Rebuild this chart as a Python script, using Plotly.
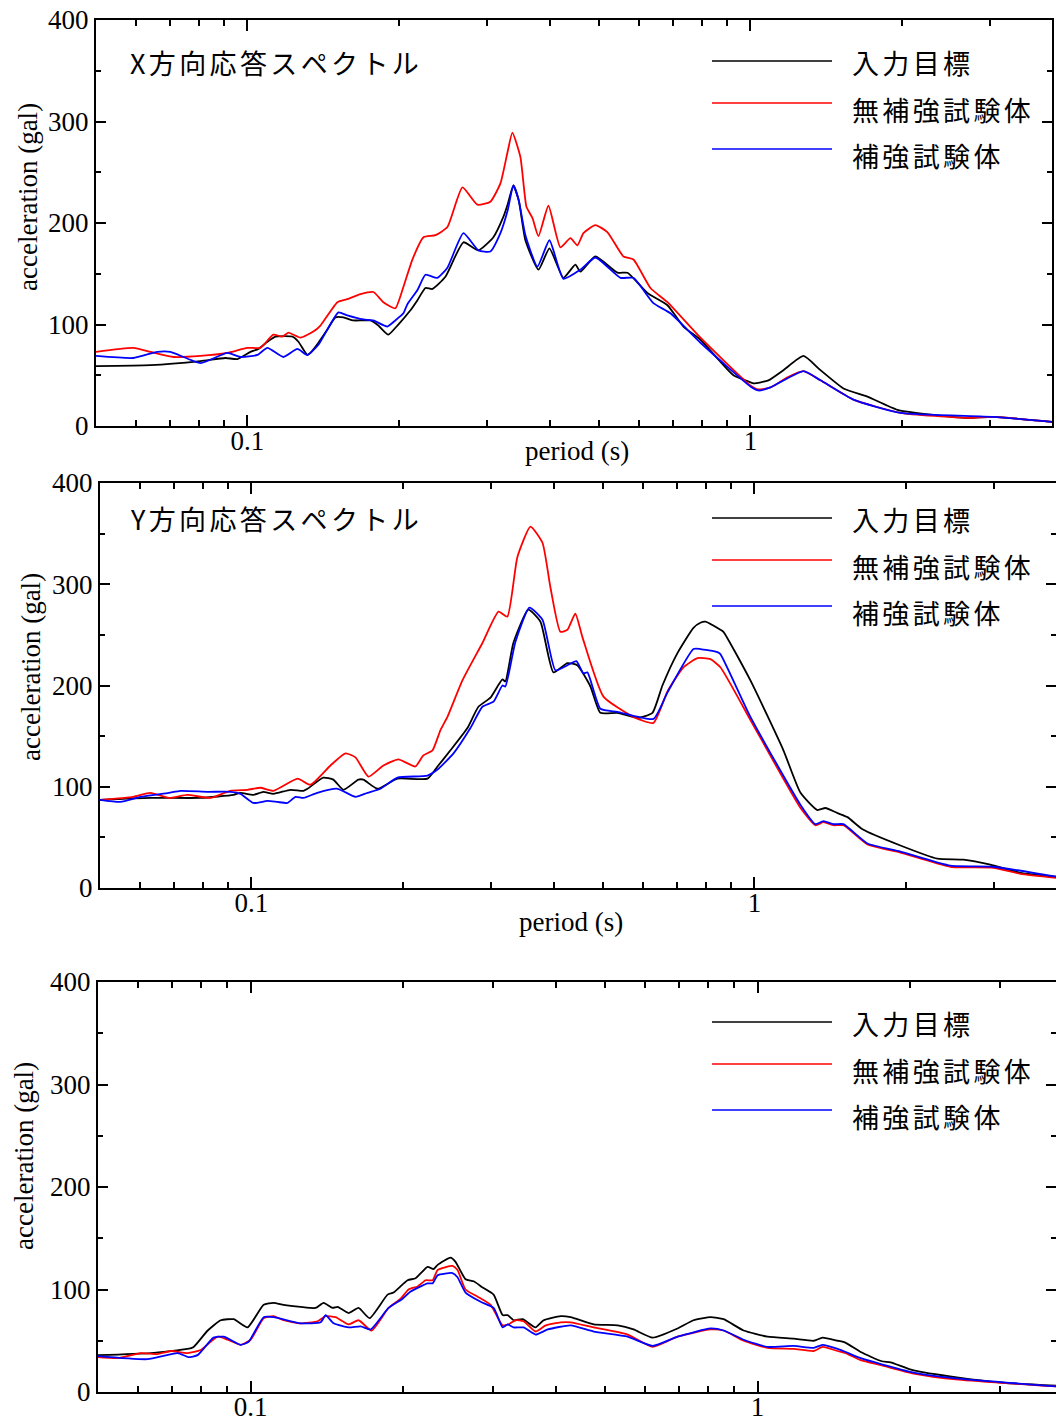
import math
import plotly.graph_objects as go

# ---------------- X direction response spectrum (period s, acceleration gal) ----------------
X_T_TARGET = [0.05, 0.0642, 0.0807, 0.0904, 0.0955, 0.1014, 0.1052, 0.1096, 0.1137, 0.1229,
              0.1263, 0.1316, 0.1334, 0.1384, 0.1442, 0.1496, 0.1552, 0.1625, 0.1756, 0.1821,
              0.1906, 0.1987, 0.2109, 0.2178, 0.2259, 0.2333, 0.2475, 0.2688, 0.2879, 0.3083,
              0.3227, 0.3290, 0.3379, 0.3464, 0.3570, 0.3790, 0.3985, 0.4248, 0.4488, 0.4592,
              0.4918, 0.5441, 0.5697, 0.6240, 0.6840, 0.7358, 0.7956, 0.9252, 0.9774, 1.014,
              1.086, 1.163, 1.275, 1.378, 1.531, 1.708, 1.960, 2.311, 2.700, 3.042, 4.0]
X_A_TARGET = [59, 60, 64, 67, 66, 73, 76, 83, 88, 88,
              83, 70, 72, 82, 95, 107, 107, 104, 104, 99,
              90, 99, 114, 124, 136, 135, 147, 181, 173, 186,
              206, 218, 237, 222, 183, 154, 175, 146, 159, 152,
              167, 151, 151, 131, 119, 98, 85, 50, 45, 42,
              45, 55, 69, 55, 37, 29, 16, 11, 8, 9, 4]

X_T_UNREINF = [0.05, 0.0593, 0.0642, 0.0713, 0.0807, 0.0912, 0.1, 0.1061, 0.1126, 0.1174,
               0.1206, 0.1275, 0.1352, 0.1397, 0.1510, 0.1580, 0.1678, 0.1780, 0.1863, 0.1968,
               0.2042, 0.2128, 0.2239, 0.2365, 0.2498, 0.2676, 0.2866, 0.3041, 0.3184, 0.3290,
               0.3363, 0.3489, 0.3587, 0.3686, 0.3790, 0.3967, 0.4190, 0.4386, 0.4529, 0.4656,
               0.4918, 0.5195, 0.5592, 0.5853, 0.6327, 0.6840, 0.7956, 1.0, 1.037, 1.096,
               1.185, 1.275, 1.378, 1.602, 1.987, 2.700, 3.042, 4.0]
X_A_UNREINF = [73, 77, 73, 68, 69, 72, 77, 77, 90, 88,
               92, 87, 93, 99, 122, 125, 130, 132, 122, 116,
               137, 164, 186, 188, 196, 235, 218, 221, 239, 270,
               289, 265, 216, 205, 187, 217, 176, 185, 178, 190,
               198, 191, 167, 164, 136, 122, 87, 40, 36, 38,
               48, 54, 45, 26, 13, 8, 9, 4]

X_T_REINF = [0.05, 0.0593, 0.0662, 0.0703, 0.0807, 0.0912, 0.0968, 0.1047, 0.1096, 0.1179,
             0.1257, 0.1316, 0.1384, 0.1517, 0.1580, 0.1701, 0.1780, 0.1897, 0.1968, 0.2042,
             0.2080, 0.2178, 0.2259, 0.2386, 0.2498, 0.2688, 0.2879, 0.3041, 0.3184, 0.3290,
             0.3379, 0.3464, 0.3570, 0.3772, 0.3985, 0.4248, 0.4592, 0.4918, 0.5516, 0.5853,
             0.6414, 0.6935, 0.7956, 1.0, 1.037, 1.096, 1.275, 1.378, 1.602, 1.987,
             3.042, 4.0]
X_A_REINF = [69, 67, 73, 73, 62, 72, 68, 70, 77, 68,
             76, 70, 80, 112, 109, 105, 104, 98, 104, 111,
             120, 134, 149, 146, 156, 190, 173, 172, 190, 212,
             237, 222, 188, 157, 183, 145, 154, 166, 146, 146,
             121, 111, 82, 39, 35, 38, 54, 45, 26, 13,
             9, 4]

# ---------------- Y direction response spectrum ----------------
Y_T_TARGET = [0.05, 0.0630, 0.0792, 0.0921, 0.0951, 0.1009, 0.1056, 0.1106, 0.1196, 0.1269,
              0.1293, 0.1390, 0.1455, 0.1524, 0.1632, 0.1670, 0.1780, 0.1951, 0.2239, 0.2344,
              0.2487, 0.2688, 0.2827, 0.2987, 0.3155, 0.3198, 0.3317, 0.3553, 0.3755, 0.3985,
              0.4248, 0.4446, 0.4720, 0.4941, 0.5341, 0.5853, 0.6269, 0.6563, 0.7030, 0.7565,
              0.781, 0.7993, 0.8558, 0.8677, 0.9818, 1.142, 1.235, 1.334, 1.384, 1.462,
              1.531, 1.640, 1.951, 2.311, 2.603, 2.945, 3.379, 4.0]
Y_A_TARGET = [87, 89, 89, 92, 94, 92, 95, 93, 97, 96,
              98, 109, 107, 97, 107, 107, 98, 108, 108, 120,
              136, 158, 179, 188, 206, 204, 242, 275, 263, 213,
              222, 220, 199, 173, 173, 168, 173, 200, 232, 257,
              262, 263, 255, 253, 205, 136, 94, 77, 79, 74,
              70, 58, 42, 29, 28, 23, 15, 11]

Y_T_UNREINF = [0.05, 0.0582, 0.0630, 0.0685, 0.0746, 0.0829, 0.0908, 0.0982, 0.1042, 0.1106,
               0.1235, 0.1310, 0.1436, 0.1538, 0.1610, 0.1709, 0.1830, 0.1960, 0.2118, 0.2197,
               0.2291, 0.2376, 0.2453, 0.2627, 0.2879, 0.3099, 0.3227, 0.3379, 0.3587, 0.3790,
               0.3930, 0.4114, 0.4248, 0.4405, 0.4549, 0.5010, 0.5744, 0.6298, 0.6714, 0.7226,
               0.7705, 0.8176, 0.8558, 0.9818, 1.235, 1.322, 1.371, 1.436, 1.503, 1.678,
               1.951, 2.453, 2.986, 3.379, 4.0]
Y_A_UNREINF = [87, 90, 94, 89, 92, 89, 96, 97, 99, 96,
               108, 102, 121, 133, 129, 110, 121, 127, 120, 131,
               136, 156, 169, 205, 242, 273, 268, 327, 357, 341,
               297, 253, 255, 271, 248, 189, 169, 163, 194, 218,
               227, 226, 218, 166, 79, 62, 65, 62, 62, 43,
               35, 21, 20, 14, 10]

Y_T_REINF = [0.05, 0.0549, 0.0602, 0.0685, 0.0723, 0.0818, 0.0908, 0.0951, 0.1009, 0.1076,
             0.1126, 0.1179, 0.1224, 0.1269, 0.1352, 0.1483, 0.1610, 0.1701, 0.1805, 0.1951,
             0.2239, 0.2344, 0.2522, 0.2725, 0.2879, 0.3029, 0.3155, 0.3198, 0.3348, 0.3570,
             0.3790, 0.4021, 0.4248, 0.4426, 0.4571, 0.4656, 0.4941, 0.5341, 0.6298, 0.6714,
             0.7565, 0.781, 0.8441, 0.8558, 0.9818, 1.235, 1.322, 1.371, 1.436, 1.503,
             1.678, 1.951, 2.453, 2.986, 4.0]
Y_A_REINF = [87, 85, 90, 94, 96, 95, 95, 93, 84, 86,
             85, 84, 90, 89, 94, 98, 90, 94, 98, 109,
             111, 117, 133, 158, 179, 184, 200, 199, 243, 277,
             265, 215, 220, 224, 212, 213, 177, 174, 167, 193,
             236, 236, 233, 231, 169, 82, 63, 66, 63, 63,
             44, 36, 22, 21, 11]

# ---------------- third panel spectrum ----------------
Z_T_TARGET = [0.05, 0.0635, 0.0751, 0.0772, 0.0823, 0.0873, 0.0926, 0.0986, 0.1061, 0.1110,
              0.1161, 0.1255, 0.1343, 0.1393, 0.1451, 0.1485, 0.1560, 0.1633, 0.1716, 0.1863,
              0.1914, 0.2040, 0.2115, 0.2234, 0.2296, 0.2338, 0.2479, 0.2536, 0.2654, 0.2754,
              0.2868, 0.3015, 0.3141, 0.3213, 0.3301, 0.3439, 0.3648, 0.3784, 0.4088, 0.4278,
              0.4750, 0.5296, 0.5692, 0.6208, 0.6953, 0.7474, 0.8077, 0.8569, 0.9384, 1.046,
              1.178, 1.290, 1.343, 1.438, 1.492, 1.597, 1.757, 1.829, 2.031, 2.491,
              3.056, 4.0]
Z_A_TARGET = [36, 38, 42, 44, 60, 70, 71, 63, 85, 87,
              85, 83, 82, 87, 82, 83, 77, 82, 72, 95,
              97, 109, 111, 122, 120, 124, 131, 127, 110, 108,
              102, 95, 75, 75, 70, 71, 63, 70, 74, 73,
              66, 65, 61, 53, 62, 70, 73, 71, 60, 54,
              52, 50, 53, 50, 48, 39, 30, 29, 21, 14,
              9, 6]

Z_T_UNREINF = [0.05, 0.0547, 0.0607, 0.0655, 0.0696, 0.0751, 0.0797, 0.0861, 0.0901, 0.0956,
               0.1, 0.1061, 0.1110, 0.1161, 0.1255, 0.1355, 0.1406, 0.1471, 0.1560, 0.1633,
               0.1732, 0.1871, 0.1976, 0.2049, 0.2135, 0.2214, 0.2286, 0.2338, 0.2502, 0.2559,
               0.2654, 0.2804, 0.2974, 0.3141, 0.3227, 0.3331, 0.3455, 0.3648, 0.3819, 0.4088,
               0.4278, 0.4750, 0.5541, 0.6208, 0.6953, 0.8077, 0.8569, 0.9384, 1.046, 1.178,
               1.290, 1.343, 1.438, 1.492, 1.597, 1.757, 2.031, 2.491, 4.0]
Z_A_UNREINF = [34, 33, 38, 37, 40, 38, 41, 54, 51, 46,
               51, 72, 74, 70, 67, 69, 74, 73, 66, 70,
               60, 82, 91, 100, 103, 109, 109, 119, 123, 119,
               100, 93, 85, 65, 66, 70, 69, 59, 65, 68,
               68, 63, 56, 44, 54, 61, 60, 50, 43, 42,
               40, 44, 40, 38, 31, 26, 18, 12, 5]

Z_T_REINF = [0.05, 0.0626, 0.0718, 0.0754, 0.0786, 0.0845, 0.0885, 0.0956, 0.0991, 0.1061,
             0.1110, 0.1255, 0.1374, 0.1406, 0.1458, 0.1560, 0.1648, 0.1724, 0.1871, 0.1994,
             0.2068, 0.2234, 0.2286, 0.2338, 0.2502, 0.2559, 0.2654, 0.2842, 0.3015, 0.3141,
             0.3213, 0.3301, 0.3455, 0.3648, 0.3853, 0.4278, 0.4750, 0.5541, 0.6208, 0.6953,
             0.8077, 0.8569, 0.9384, 1.046, 1.178, 1.290, 1.343, 1.438, 1.492, 1.597,
             1.757, 2.031, 2.491, 4.0]
Z_A_REINF = [35, 32, 38, 34, 36, 53, 54, 46, 49, 73,
             73, 67, 68, 75, 67, 63, 64, 61, 82, 91,
             98, 106, 106, 114, 116, 112, 97, 88, 82, 63,
             66, 63, 63, 56, 61, 65, 59, 54, 45, 54,
             62, 60, 51, 44, 45, 43, 46, 42, 39, 33,
             27, 19, 13, 5]

SERIES_NAMES = ["入力目標", "無補強試験体", "補強試験体"]
SERIES_COLORS = ["#000000", "#ff0000", "#0000ff"]
PANEL_TITLES = ["X方向応答スペクトル", "Y方向応答スペクトル", None]
MAJOR_T = [0.1, 1]
MAJOR_T_TEXT = ["0.1", "1"]
MINOR_T = [0.06, 0.07, 0.08, 0.09, 0.2, 0.3, 0.4, 0.5, 0.6, 0.7, 0.8, 0.9, 2, 3, 4]

PANEL_DATA = [
    [(X_T_TARGET, X_A_TARGET), (X_T_UNREINF, X_A_UNREINF), (X_T_REINF, X_A_REINF)],
    [(Y_T_TARGET, Y_A_TARGET), (Y_T_UNREINF, Y_A_UNREINF), (Y_T_REINF, Y_A_REINF)],
    [(Z_T_TARGET, Z_A_TARGET), (Z_T_UNREINF, Z_A_UNREINF), (Z_T_REINF, Z_A_REINF)],
]

# ---------------- page geometry (pixels) ----------------
W, H = 1056, 1425
SERIF = "Liberation Serif"
CJK = "Noto Sans CJK JP"
T_MIN = 0.05


def fx(px):
    return px / W


def fy(px):
    return 1 - px / H


def spaced(s):
    # a little extra tracking between the Japanese glyphs
    return "\u200a\u200a".join(s)


PANELS = [
    dict(box=(96, 1052, 20, 426), decade=503, ytitle=(28, 197), xtitle=(577, 451),
         title_y=62, leg_line_y=(61, 103, 149), leg_text_y=(62, 109, 155)),
    dict(box=(100, 1056, 483, 888), decade=503, ytitle=(31, 667), xtitle=(571, 922),
         title_y=518, leg_line_y=(518, 560, 606), leg_text_y=(519, 566, 612)),
    dict(box=(98, 1056, 982, 1392), decade=507, ytitle=(24, 1156), xtitle=None,
         title_y=None, leg_line_y=(1022, 1064, 1110), leg_text_y=(1023, 1070, 1116)),
]

fig = go.Figure()
layout = dict(
    width=W, height=H, autosize=False,
    margin=dict(l=0, r=0, t=0, b=0, pad=0, autoexpand=False),
    paper_bgcolor="white", plot_bgcolor="white",
    showlegend=False,
    font=dict(family=SERIF, size=27, color="black"),
)
shapes, annotations = [], []

for i, (spec, series) in enumerate(zip(PANELS, PANEL_DATA)):
    n = "" if i == 0 else str(i + 1)
    left, right, top, bottom = spec["box"]
    lo = math.log10(T_MIN)
    hi = lo + (right - left) / spec["decade"]

    for (t, a), name, color in zip(series, SERIES_NAMES, SERIES_COLORS):
        fig.add_trace(go.Scatter(x=t, y=a, mode="lines", name=name,
                                 line=dict(color=color, width=1.8, shape="spline", smoothing=0.5),
                                 xaxis="x" + n, yaxis="y" + n))

    layout["xaxis" + n] = dict(
        type="log", domain=[fx(left), fx(right)], range=[lo, hi], anchor="y" + n,
        automargin=False,
        showline=True, linecolor="black", linewidth=2, mirror="ticks",
        ticks="inside", ticklen=11, tickwidth=1.5, tickcolor="black",
        tickmode="array", tickvals=MAJOR_T, ticktext=MAJOR_T_TEXT,
        ticklabelstandoff=-10,
        minor=dict(tickmode="array", tickvals=MINOR_T, ticks="inside",
                   ticklen=6, tickwidth=1.5, tickcolor="black", showgrid=False),
        showgrid=False, zeroline=False,
        tickfont=dict(family=SERIF, size=27, color="black"),
    )
    layout["yaxis" + n] = dict(
        domain=[fy(bottom), fy(top)], range=[0, 400], anchor="x" + n,
        automargin=False,
        showline=True, linecolor="black", linewidth=2, mirror="ticks",
        ticks="inside", ticklen=10, tickwidth=1.5, tickcolor="black",
        tickmode="linear", tick0=0, dtick=100,
        minor=dict(dtick=50, ticks="inside", ticklen=5, tickwidth=1.5,
                   tickcolor="black", showgrid=False),
        showgrid=False, zeroline=False,
        tickfont=dict(family=SERIF, size=27, color="black"),
    )

    # axis titles
    yx, yy = spec["ytitle"]
    annotations.append(dict(text="acceleration (gal)", x=fx(yx), y=fy(yy),
                            xref="paper", yref="paper", textangle=-90,
                            showarrow=False, xanchor="center", yanchor="middle",
                            font=dict(family=SERIF, size=27, color="black")))
    if spec["xtitle"]:
        tx, ty = spec["xtitle"]
        annotations.append(dict(text="period (s)", x=fx(tx), y=fy(ty),
                                xref="paper", yref="paper", showarrow=False,
                                xanchor="center", yanchor="middle",
                                font=dict(family=SERIF, size=27, color="black")))

    # panel title
    if PANEL_TITLES[i]:
        annotations.append(dict(text=spaced(PANEL_TITLES[i]), x=fx(128), y=fy(spec["title_y"]),
                                xref="paper", yref="paper", showarrow=False,
                                xanchor="left", yanchor="middle",
                                font=dict(family=CJK, size=27, color="black")))

    # legend block
    for name, color, ly, ty in zip(SERIES_NAMES, SERIES_COLORS,
                                   spec["leg_line_y"], spec["leg_text_y"]):
        shapes.append(dict(type="line", xref="paper", yref="paper",
                           x0=fx(712), x1=fx(832), y0=fy(ly), y1=fy(ly),
                           line=dict(color=color, width=1.5)))
        annotations.append(dict(text=spaced(name), x=fx(850), y=fy(ty),
                                xref="paper", yref="paper", showarrow=False,
                                xanchor="left", yanchor="middle",
                                font=dict(family=CJK, size=27, color="black")))

layout["shapes"] = shapes
layout["annotations"] = annotations
fig.update_layout(**layout)

fig.write_html("out.html")
